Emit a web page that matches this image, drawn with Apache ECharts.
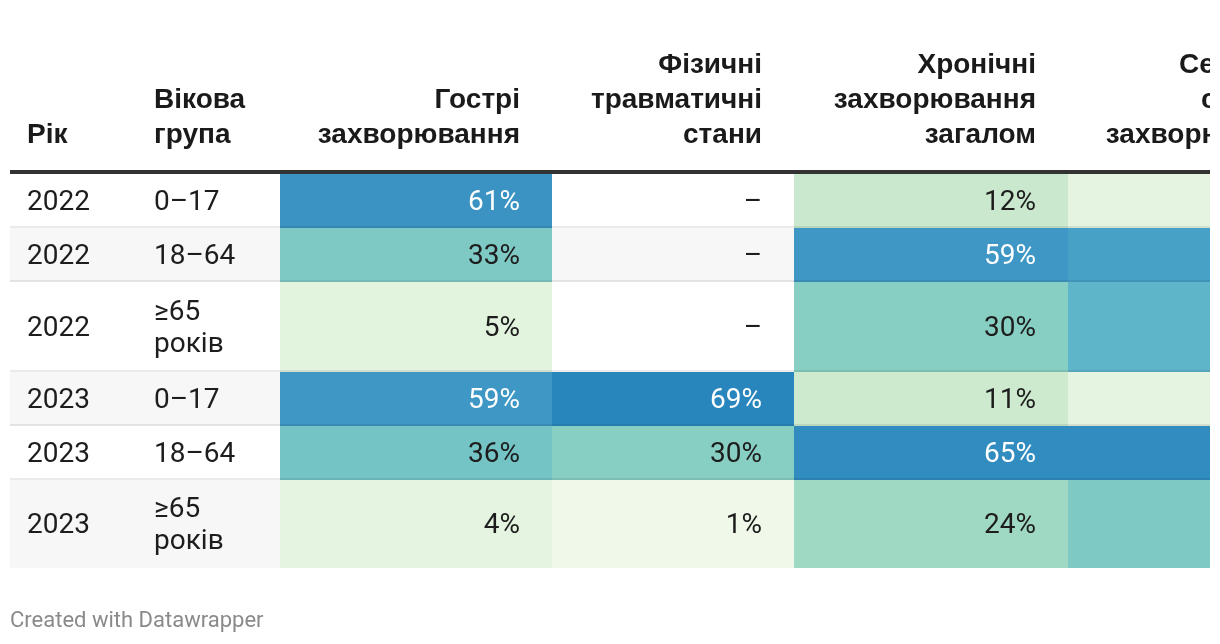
<!DOCTYPE html>
<html>
<head>
<meta charset="utf-8">
<script src="https://cdn.jsdelivr.net/npm/echarts@6/dist/echarts.min.js"></script>
<style>
html,body{margin:0;padding:0;background:#fff;}
#chart{width:1210px;height:644px;overflow:hidden;}
</style>
</head>
<body>
<div id="chart"></div>
<script>
// ---- data ----
const years = [2022, 2022, 2022, 2023, 2023, 2023];
const ageGroups = ['0–17', '18–64', '≥65 років', '0–17', '18–64', '≥65 років'];
const headers = ['Рік', 'Вікова\nгрупа', 'Гострі\nзахворювання', 'Фізичні\nтравматичні\nстани', 'Хронічні\nзахворювання\nзагалом', 'Серцево-\nсудинні\nзахворювання'];
const acute = [61, 33, 5, 59, 36, 4];
const trauma = [null, null, null, 69, 30, 1];
const chronic = [12, 59, 30, 11, 65, 24];
const cardio = [4, 54, 44, 4, 65, 33];
const metrics = [acute, trauma, chronic, cardio];

// ---- layout (table geometry in axis units = px) ----
const colEdges = [10, 140, 280, 552, 794, 1068, 1340];
const rowTops = [174, 228, 282, 372, 426, 480, 568];
const headerBottom = 153;
const cellPad = 32;
const bodyFont = '28px Roboto';
const headFont = 'bold 28px "Liberation Sans", Arial, Helvetica, sans-serif';
const textDy = 1.5;

const cellData = [];
const missingData = [];
metrics.forEach((arr, m) => arr.forEach((v, r) => {
  if (v === null) missingData.push([m + 2, r]);
  else cellData.push([m + 2, r, v]);
}));
const rowData = years.map((y, r) => [r]);
const headerData = headers.map((h, c) => [c]);

const chart = echarts.init(document.getElementById('chart'), null, {renderer: 'canvas'});

function rectOf(api, c, r) {
  const p0 = api.coord([colEdges[c], rowTops[r]]);
  const p1 = api.coord([colEdges[c + 1], rowTops[r + 1]]);
  return {x: p0[0], y: p0[1], w: p1[0] - p0[0], h: p1[1] - p0[1]};
}

chart.setOption({
  animation: false,
  backgroundColor: '#ffffff',
  grid: {left: 0, right: 0, top: 0, bottom: 0},
  xAxis: {type: 'value', min: 0, max: 1210, show: false},
  yAxis: {type: 'value', min: 0, max: 644, inverse: true, show: false},
  title: {
    text: 'Created with Datawrapper', left: 10, top: 610, padding: 0,
    textStyle: {fontFamily: 'Roboto', fontSize: 22, fontWeight: 'normal', color: '#8a8a8a'}
  },
  visualMap: {
    show: false, type: 'continuous', seriesIndex: 1, dimension: 2, min: 0, max: 70,
    inRange: {color: ['#f3faec', '#d0ebcf', '#aedec3', '#88cfc3', '#69bcc7', '#4ea9c9', '#3c95c4', '#2684bc']}
  },
  series: [
    { // row backgrounds, year and age labels
      type: 'custom', z: 1, clip: true, data: rowData,
      renderItem: function (params, api) {
        const r = api.value(0);
        const a = api.coord([colEdges[0], rowTops[r]]);
        const b = api.coord([1210, rowTops[r + 1]]);
        const cy = (a[1] + b[1]) / 2 + textDy;
        const children = [];
        if (r % 2 === 1) {
          children.push({type: 'rect', shape: {x: a[0], y: a[1], width: b[0] - a[0], height: b[1] - a[1]}, style: {fill: '#f7f7f7'}});
        }
        const c0 = api.coord([colEdges[0], 0])[0];
        const c1 = api.coord([colEdges[1], 0])[0];
        children.push({type: 'text', style: {text: String(years[r]), x: c0 + 17, y: cy, align: 'left', verticalAlign: 'middle', font: bodyFont, fill: '#1d1d1d'}});
        children.push({type: 'text', style: {text: ageGroups[r].replace(' ', '\n'), x: c1 + 14, y: cy, align: 'left', verticalAlign: 'middle', font: bodyFont, lineHeight: 32, fill: '#1d1d1d'}});
        return {type: 'group', children: children};
      }
    },
    { // coloured value cells
      type: 'custom', z: 2, clip: true, data: cellData,
      encode: {x: 0, y: 1},
      renderItem: function (params, api) {
        const c = api.value(0), r = api.value(1), v = api.value(2);
        const q = rectOf(api, c, r);
        return {type: 'group', children: [
          {type: 'rect', shape: {x: q.x, y: q.y, width: q.w, height: q.h}, style: {fill: api.visual('color')}},
          {type: 'text', style: {text: v + '%', x: q.x + q.w - cellPad, y: q.y + q.h / 2 + textDy, align: 'right', verticalAlign: 'middle', font: bodyFont, fill: v >= 50 ? '#ffffff' : '#1d1d1d'}}
        ]};
      }
    },
    { // missing values
      type: 'custom', z: 2, clip: true, data: missingData,
      renderItem: function (params, api) {
        const q = rectOf(api, api.value(0), api.value(1));
        return {type: 'text', style: {text: '–', x: q.x + q.w - cellPad, y: q.y + q.h / 2 + textDy, align: 'right', verticalAlign: 'middle', font: bodyFont, fill: '#1d1d1d'}};
      }
    },
    { // row separators
      type: 'custom', z: 3, clip: true, data: rowData.slice(0, rowData.length - 1),
      renderItem: function (params, api) {
        const r = api.value(0);
        const a = api.coord([colEdges[0], rowTops[r + 1] - 2]);
        const b = api.coord([1210, rowTops[r + 1]]);
        return {type: 'rect', shape: {x: a[0], y: a[1], width: b[0] - a[0], height: b[1] - a[1]}, style: {fill: 'rgba(0,0,0,0.08)'}};
      }
    },
    { // header texts and header rule
      type: 'custom', z: 4, clip: true, data: headerData,
      renderItem: function (params, api) {
        const c = api.value(0);
        const x0 = api.coord([colEdges[c], 0])[0];
        const x1 = api.coord([colEdges[c + 1], 0])[0];
        const yb = api.coord([0, headerBottom])[1];
        const left = c < 2;
        const children = [{type: 'text', style: {
          text: headers[c], x: left ? x0 + (c === 0 ? 17 : 14) : x1 - cellPad, y: yb,
          align: left ? 'left' : 'right', verticalAlign: 'bottom',
          font: headFont, lineHeight: 35, fill: '#1a1a1a'
        }}];
        if (c === 0) {
          const a = api.coord([colEdges[0], 170]);
          const b = api.coord([1210, 174]);
          children.push({type: 'rect', shape: {x: a[0], y: a[1], width: b[0] - a[0], height: b[1] - a[1]}, style: {fill: '#333333'}});
        }
        return {type: 'group', children: children};
      }
    }
  ]
});
</script>
</body>
</html>
